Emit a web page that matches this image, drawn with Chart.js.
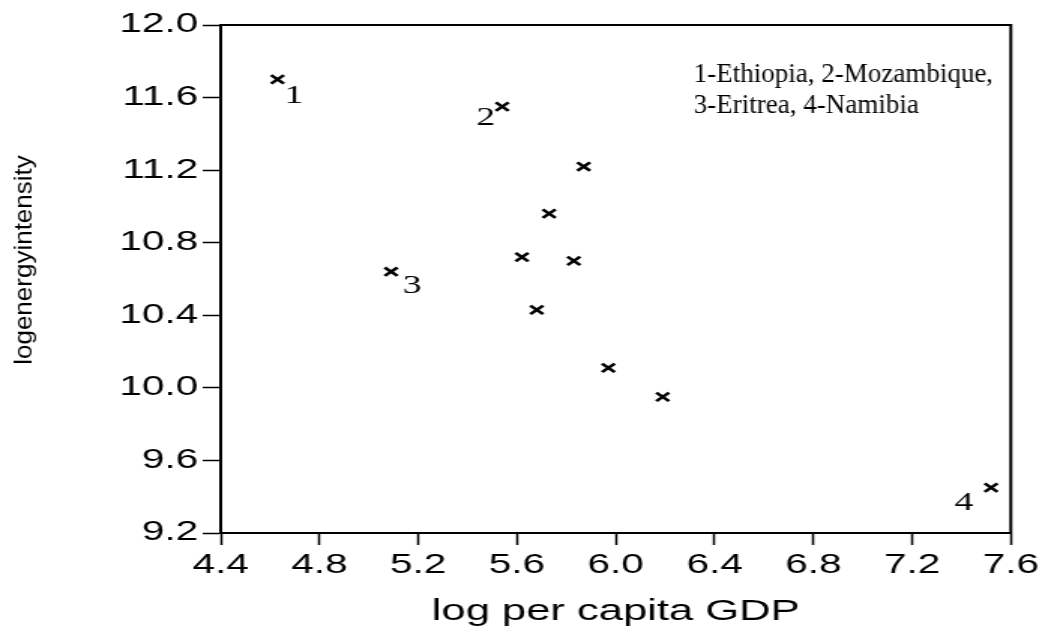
<!DOCTYPE html>
<html>
<head>
<meta charset="utf-8">
<title>log energy intensity vs log per capita GDP</title>
<script src="https://cdn.jsdelivr.net/npm/chart.js@4.4.1/dist/chart.umd.min.js"></script>
<style>
    html, body { margin: 0; padding: 0; background: #fff; overflow: hidden; }
    /* the reference is stretched sideways, so the canvas is drawn narrow and widened */
    #scatter { display: block; width: 1045px !important; height: 630px !important; }
</style>
</head>
<body>
<canvas id="scatter" width="696" height="630" style="width:1045px;height:630px"></canvas>
<script>
// data
const gdp = [4.63, 5.54, 5.87, 5.73, 5.09, 5.62, 5.83, 5.68, 5.97, 6.19, 7.52];
const energy = [11.70, 11.55, 11.22, 10.96, 10.64, 10.72, 10.70, 10.43, 10.11, 9.95, 9.45];
const pointNames = ['1', '2', '', '', '3', '', '', '', '', '', '4'];
const xTicks = [4.4, 4.8, 5.2, 5.6, 6.0, 6.4, 6.8, 7.2, 7.6];
const yTicks = [9.2, 9.6, 10.0, 10.4, 10.8, 11.2, 11.6, 12.0];
const noteLines = ['1-Ethiopia, 2-Mozambique,', '3-Eritrea, 4-Namibia'];
const xTitle = 'log per capita GDP';
const yTitle = 'logenergyintensity';

const stretch = 1045 / 696;
const sans = '"Liberation Sans", Arial, sans-serif';
const serif = '"Liberation Serif", "Times New Roman", serif';

// where each number sits next to its mark
const labelShift = { '1': [11, 17], '2': [-11, 12], '3': [14, 15], '4': [-18, 16] };

const extras = {
    id: 'extras',
    afterDraw(chart) {
        const ctx = chart.ctx;
        const a = chart.chartArea;
        ctx.save();
        // top and right side of the frame
        ctx.strokeStyle = '#000';
        ctx.lineWidth = 2;
        ctx.beginPath();
        ctx.moveTo(a.left - 1, a.top);
        ctx.lineTo(a.right, a.top);
        ctx.lineTo(a.right, a.bottom + 1);
        ctx.stroke();

        // country numbers
        ctx.fillStyle = '#000';
        ctx.font = '25px ' + serif;
        ctx.textAlign = 'center';
        ctx.textBaseline = 'middle';
        const meta = chart.getDatasetMeta(0);
        pointNames.forEach(function(name, i) {
            if (!name) return;
            const p = meta.data[i];
            const s = labelShift[name];
            ctx.fillText(name, p.x + s[0], p.y + s[1]);
        });

        // these texts are not stretched in the reference
        ctx.scale(1 / stretch, 1);
        ctx.font = '27px ' + serif;
        ctx.textAlign = 'left';
        ctx.textBaseline = 'alphabetic';
        const noteX = a.right * stretch - 317;
        noteLines.forEach(function(line, i) {
            ctx.fillText(line, noteX, a.top + 57 + i * 31);
        });

        ctx.font = '26px ' + sans;
        ctx.textAlign = 'center';
        ctx.textBaseline = 'middle';
        ctx.translate(25, (a.top + a.bottom) / 2 - 19);
        ctx.rotate(-Math.PI / 2);
        ctx.fillText(yTitle, 0, 0);
        ctx.restore();
    }
};

const ctx = document.getElementById('scatter').getContext('2d');
const chart = new Chart(ctx, {
    type: 'scatter',
    data: {
        datasets: [{
            data: gdp.map((x, i) => ({ x: x, y: energy[i] })),
            pointStyle: 'crossRot',
            pointRadius: 6,
            pointHoverRadius: 6,
            borderColor: '#000',
            backgroundColor: '#000',
            pointBorderWidth: 2.5
        }]
    },
    options: {
        responsive: false,
        animation: false,
        devicePixelRatio: 1,
        events: [],
        layout: { padding: { left: 0, right: 21, top: 25, bottom: 0 } },
        plugins: {
            legend: { display: false },
            tooltip: { enabled: false }
        },
        scales: {
            x: {
                type: 'linear',
                min: 4.4,
                max: 7.6,
                afterBuildTicks: function(scale) {
                    scale.ticks = xTicks.map(v => ({ value: v }));
                },
                afterFit: function(scale) { scale.height = 97; },
                grid: { drawOnChartArea: false, drawTicks: true, tickLength: 12, tickColor: '#000', tickWidth: 1.5 },
                border: { display: true, color: '#000', width: 2 },
                ticks: {
                    color: '#000',
                    padding: 4,
                    maxRotation: 0,
                    autoSkip: false,
                    font: { family: sans, size: 27 },
                    callback: v => Number(v).toFixed(1)
                },
                title: {
                    display: true,
                    text: xTitle,
                    color: '#000',
                    font: { family: sans, size: 29 },
                    padding: { top: 0, bottom: 1 }
                }
            },
            y: {
                type: 'linear',
                min: 9.2,
                max: 12.0,
                afterBuildTicks: function(scale) {
                    scale.ticks = yTicks.map(v => ({ value: v }));
                },
                afterFit: function(scale) { scale.width = 147; },
                grid: { drawOnChartArea: false, drawTicks: true, tickLength: 12, tickColor: '#000', tickWidth: 1.5 },
                border: { display: true, color: '#000', width: 2 },
                ticks: {
                    color: '#000',
                    padding: 3,
                    autoSkip: false,
                    font: { family: sans, size: 27 },
                    callback: v => Number(v).toFixed(1)
                }
            }
        }
    },
    plugins: [extras]
});
</script>
</body>
</html>
